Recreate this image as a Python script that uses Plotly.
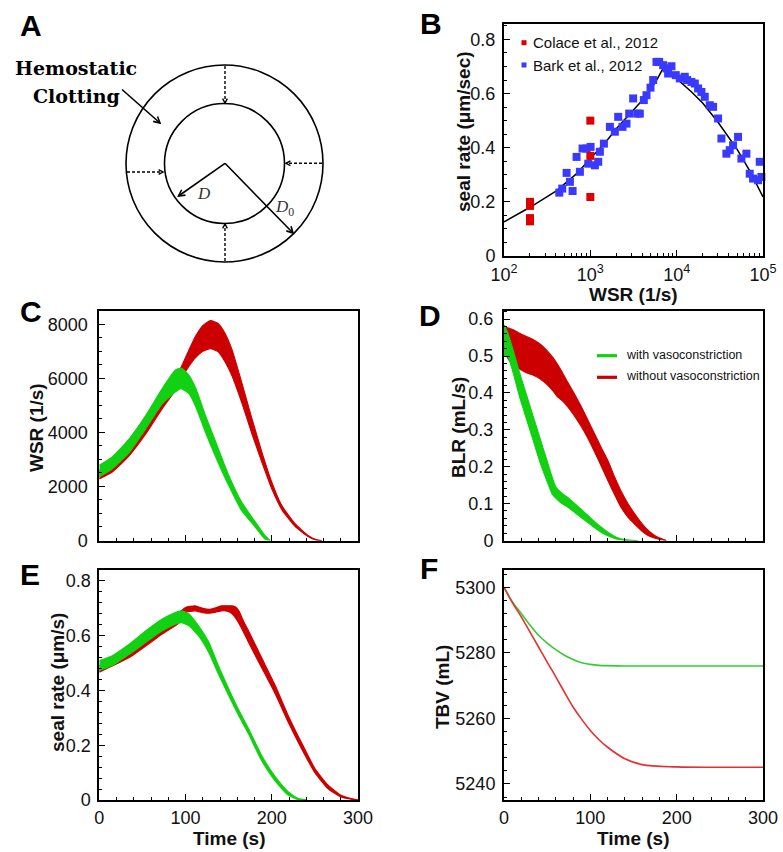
import math
import plotly.graph_objects as go

W, H = 783, 852

# ---------------- Data ----------------
# Panel B
colace_wsr = [200, 200, 200, 200, 1000, 1000, 1000]
colace_rate = [0.20, 0.185, 0.14, 0.128, 0.50, 0.37, 0.218]
bark_wsr = [437, 473, 531, 580, 623, 693, 757, 813, 904, 946, 1007, 1130, 1234, 1290, 1436,
            1684, 1923, 2102, 2359, 2625, 2818, 3134, 3488, 3743, 4166, 4473, 4978, 5344, 5837,
            6268, 6969, 7617, 7962, 8704, 9770, 10869, 12420, 13215, 14831, 16218, 17713, 19364,
            21153, 24166, 26418, 30184, 32990, 37680, 41180, 44990, 51400, 56200, 64250, 70200,
            76700, 87700, 91700, 95800]
bark_rate = [0.234, 0.249, 0.307, 0.274, 0.240, 0.366, 0.311, 0.397, 0.397, 0.341, 0.403, 0.335,
             0.348, 0.385, 0.415, 0.477, 0.459, 0.514, 0.477, 0.489, 0.526, 0.582, 0.526, 0.526,
             0.576, 0.594, 0.622, 0.650, 0.717, 0.717, 0.705, 0.693, 0.674, 0.701, 0.668, 0.656,
             0.662, 0.650, 0.643, 0.637, 0.619, 0.606, 0.588, 0.557, 0.551, 0.508, 0.434, 0.378,
             0.391, 0.409, 0.440, 0.360, 0.378, 0.304, 0.286, 0.280, 0.348, 0.292]
fit_wsr = [100, 200, 400, 700, 1000, 1500, 2000, 3000, 4000, 5000, 6000, 7000, 8000, 10000,
           15000, 20000, 30000, 40000, 50000, 70000, 100000]
fit_rate = [0.126, 0.18, 0.24, 0.305, 0.36, 0.42, 0.47, 0.53, 0.575, 0.615, 0.655, 0.695, 0.68,
            0.655, 0.605, 0.565, 0.495, 0.44, 0.395, 0.315, 0.218]

# Panel C (WSR)
c_green_t = [0, 15, 35, 54, 73, 88, 95, 104, 112, 123, 135, 150, 165, 181, 192, 198]
c_green_hi = [2780, 3090, 3770, 4630, 5620, 6300, 6380, 6110, 5620, 4630, 3640, 2410, 1420, 680, 185, 0]
c_green_lo = [2350, 2650, 3270, 4140, 5060, 5490, 5620, 5430, 4940, 4010, 3090, 2040, 1110, 490, 60, 0]
c_red_t = [0, 15, 35, 54, 73, 88, 95, 104, 111, 120, 129, 138, 146, 154, 165, 177, 188.5, 200, 211.5,
           227, 242, 252, 258]
c_red_hi = [2590, 2900, 3580, 4440, 5370, 6050, 6420, 7050, 7520, 7950, 8130, 8020, 7650, 7050, 5860,
            4510, 3270, 2160, 1300, 620, 185, 25, 0]
c_red_lo = [2280, 2530, 3150, 3950, 4880, 5550, 5990, 6450, 6750, 7000, 7100, 6980, 6600, 6080, 5120,
            3950, 2900, 1910, 1150, 520, 150, 10, 0]

# Panel D (BLR)
d_green_t = [0, 4, 10, 18, 26, 34, 42, 50, 56, 60, 66, 73, 83, 93, 103, 113, 123, 130, 138, 145, 155]
d_green_hi = [0.585, 0.565, 0.52, 0.455, 0.395, 0.335, 0.275, 0.215, 0.17, 0.145, 0.13, 0.118, 0.098,
              0.077, 0.055, 0.035, 0.018, 0.009, 0.003, 0.001, 0]
d_green_lo = [0.50, 0.50, 0.46, 0.39, 0.33, 0.27, 0.21, 0.16, 0.125, 0.115, 0.102, 0.092, 0.074, 0.056,
              0.038, 0.022, 0.01, 0.004, 0.001, 0, 0]
d_red_t = [0, 3, 10, 18, 26, 34, 42, 49, 57, 61, 67, 73, 81, 89, 97, 105, 113, 121, 128, 136, 144, 152,
           160, 168, 175, 182, 188]
d_red_hi = [0.583, 0.578, 0.572, 0.562, 0.553, 0.544, 0.532, 0.517, 0.495, 0.481, 0.458, 0.432, 0.40,
            0.365, 0.327, 0.289, 0.25, 0.213, 0.173, 0.132, 0.098, 0.07, 0.045, 0.025, 0.013, 0.005, 0]
d_red_lo = [0.56, 0.50, 0.477, 0.465, 0.455, 0.448, 0.438, 0.425, 0.405, 0.392, 0.38, 0.365, 0.34,
            0.311, 0.278, 0.24, 0.20, 0.159, 0.125, 0.088, 0.062, 0.043, 0.025, 0.012, 0.006, 0.002, 0]

# Panel E (seal rate)
e_green_t = [0, 15, 35, 54, 73, 88, 95, 104, 115, 127, 138, 150, 161, 173, 188, 204, 219, 230, 240]
e_green_hi = [0.509, 0.527, 0.570, 0.618, 0.661, 0.685, 0.691, 0.679, 0.636, 0.576, 0.491, 0.406,
              0.333, 0.261, 0.164, 0.085, 0.030, 0.006, 0]
e_green_lo = [0.473, 0.491, 0.533, 0.576, 0.618, 0.642, 0.648, 0.636, 0.600, 0.539, 0.461, 0.382,
              0.312, 0.242, 0.145, 0.069, 0.018, 0.002, 0]
e_red_t = [0, 35, 73, 88, 95, 100, 111, 120, 127, 135, 142, 150, 154, 158, 162, 167, 173, 188, 204,
           219, 235, 250, 265, 281, 296, 300]
e_red_hi = [0.491, 0.552, 0.648, 0.675, 0.691, 0.703, 0.709, 0.700, 0.696, 0.702, 0.709, 0.709, 0.709,
            0.705, 0.69, 0.655, 0.618, 0.521, 0.418, 0.309, 0.206, 0.115, 0.055, 0.016, 0.002, 0]
e_red_lo = [0.467, 0.521, 0.606, 0.636, 0.655, 0.685, 0.691, 0.684, 0.682, 0.686, 0.691, 0.688, 0.68,
            0.665, 0.645, 0.615, 0.576, 0.485, 0.388, 0.285, 0.185, 0.100, 0.042, 0.010, 0.001, 0]

# Panel F (TBV)
f_t = [0, 10, 20, 30, 40, 50, 60, 70, 80, 90, 100, 110, 120, 140, 160, 200, 250, 300]
f_green = [5300, 5295.5, 5292, 5288.5, 5285.4, 5283, 5281, 5279.3, 5278, 5277, 5276.5, 5276.2,
           5276.1, 5276, 5276, 5276, 5276, 5276]
f_red = [5300, 5295.2, 5291, 5286.4, 5281.8, 5277.2, 5272.7, 5268, 5263.5, 5259.7, 5256.3, 5253.5,
         5251.2, 5247.7, 5245.9, 5245.2, 5245.1, 5245.1]

legend_labels_B = ["Colace et al., 2012", "Bark et al., 2012"]
legend_labels_D = ["with vasoconstriction", "without vasoconstriction"]

GREEN = "#12d012"
RED = "#cc0000"
GREEN_THIN = "#33cc33"
RED_THIN = "#e53030"
FONT = "Liberation Sans, Arial, sans-serif"


def px(x):
    return x / W


def py(y):
    return 1 - y / H


fig = go.Figure()


def band(t, lo, hi, color, xa, ya):
    fig.add_trace(go.Scatter(x=t, y=lo, mode="lines", line=dict(color=color, width=1.2, shape="spline", smoothing=0.5),
                             xaxis=xa, yaxis=ya, showlegend=False, hoverinfo="skip"))
    fig.add_trace(go.Scatter(x=t, y=hi, mode="lines", line=dict(color=color, width=1.2, shape="spline", smoothing=0.5),
                             fill="tonexty", fillcolor=color,
                             xaxis=xa, yaxis=ya, showlegend=False, hoverinfo="skip"))


# Panel B
fig.add_trace(go.Scatter(x=fit_wsr, y=fit_rate, mode="lines", line=dict(color="black", width=1.5),
                         xaxis="x", yaxis="y", showlegend=False, hoverinfo="skip"))
fig.add_trace(go.Scatter(x=bark_wsr, y=bark_rate, mode="markers", cliponaxis=False,
                         marker=dict(symbol="square", size=8, color="#3a3aff", line=dict(width=0)),
                         xaxis="x", yaxis="y", showlegend=False))
fig.add_trace(go.Scatter(x=colace_wsr, y=colace_rate, mode="markers", cliponaxis=False,
                         marker=dict(symbol="square", size=8, color="#dd0000", line=dict(width=0)),
                         xaxis="x", yaxis="y", showlegend=False))

# Panel C
band(c_red_t, c_red_lo, c_red_hi, RED, "x2", "y2")
band(c_green_t, c_green_lo, c_green_hi, GREEN, "x2", "y2")
# Panel D
band(d_red_t, d_red_lo, d_red_hi, RED, "x3", "y3")
band(d_green_t, d_green_lo, d_green_hi, GREEN, "x3", "y3")
# Panel E
band(e_red_t, e_red_lo, e_red_hi, RED, "x4", "y4")
band(e_green_t, e_green_lo, e_green_hi, GREEN, "x4", "y4")
# Panel F
fig.add_trace(go.Scatter(x=f_t, y=f_green, mode="lines", line=dict(color=GREEN_THIN, width=1.6, shape="spline"),
                         xaxis="x5", yaxis="y5", showlegend=False))
fig.add_trace(go.Scatter(x=f_t, y=f_red, mode="lines", line=dict(color=RED_THIN, width=1.6, shape="spline"),
                         xaxis="x5", yaxis="y5", showlegend=False))

# dummy trace for diagram axis
fig.add_trace(go.Scatter(x=[0], y=[0], mode="markers", marker=dict(opacity=0), xaxis="x6", yaxis="y6",
                         showlegend=False, hoverinfo="skip"))


def ax_style(**kw):
    d = dict(showline=True, linecolor="black", linewidth=2, mirror=True, ticks="inside", ticklen=6,
             tickwidth=1.3, tickcolor="black", showgrid=False, zeroline=False, automargin=False,
             tickfont=dict(family=FONT, size=18, color="#111"), ticklabelstandoff=3)
    d.update(kw)
    return d


xB = [px(504), px(763)]
xL = [px(99.3), px(358)]
xR = [px(504), px(763)]
yB = [py(256), py(24)]
yM = [py(540.5), py(310.7)]
yE = [py(800), py(570)]

minor_t = dict(ticks="inside", ticklen=3, tickwidth=1, tickcolor="black", dtick=20)

fig.update_layout(
    width=W, height=H, margin=dict(l=0, r=0, t=0, b=0, pad=0, autoexpand=False),
    paper_bgcolor="white", plot_bgcolor="white", showlegend=False,
    xaxis=ax_style(type="log", range=[2, 5], domain=xB, anchor="y", ticklabelstandoff=1,
                   tickmode="array", tickvals=[100, 1000, 10000, 100000],
                   ticktext=["10<sup>2</sup>", "10<sup>3</sup>", "10<sup>4</sup>", "10<sup>5</sup>"],
                   minor=dict(ticks="inside", ticklen=3, tickwidth=1, tickcolor="black", dtick="D1")),
    yaxis=ax_style(range=[0, 0.857], domain=yB, anchor="x", tickvals=[0, 0.2, 0.4, 0.6, 0.8],
                   ticktext=["0", "0.2", "0.4", "0.6", "0.8"],
                   minor=dict(ticks="inside", ticklen=3, tickwidth=1, tickcolor="black", dtick=0.05)),
    xaxis2=ax_style(range=[0, 300], domain=xL, anchor="y2", dtick=100, showticklabels=False, minor=minor_t),
    yaxis2=ax_style(range=[0, 8500], domain=yM, anchor="x2", dtick=2000, ticklabelstandoff=6,
                    minor=dict(ticks="inside", ticklen=3, tickwidth=1, tickcolor="black", dtick=500)),
    xaxis3=ax_style(range=[0, 300], domain=xR, anchor="y3", dtick=100, showticklabels=False, minor=minor_t),
    yaxis3=ax_style(range=[0, 0.623], domain=yM, anchor="x3", tickvals=[0, 0.1, 0.2, 0.3, 0.4, 0.5, 0.6],
                    ticktext=["0", "0.1", "0.2", "0.3", "0.4", "0.5", "0.6"], ticklabelstandoff=5,
                    minor=dict(ticks="inside", ticklen=3, tickwidth=1, tickcolor="black", dtick=0.02)),
    xaxis4=ax_style(range=[0, 300], domain=xL, anchor="y4", dtick=100, minor=minor_t, ticklabelstandoff=0),
    yaxis4=ax_style(range=[0, 0.84], domain=yE, anchor="x4", tickvals=[0, 0.2, 0.4, 0.6, 0.8],
                    ticktext=["0", "0.2", "0.4", "0.6", "0.8"],
                    minor=dict(ticks="inside", ticklen=3, tickwidth=1, tickcolor="black", dtick=0.04)),
    xaxis5=ax_style(range=[0, 300], domain=xR, anchor="y5", dtick=100, minor=minor_t, ticklabelstandoff=0),
    yaxis5=ax_style(range=[5235.1, 5305.3], domain=yE, anchor="x5", tickvals=[5240, 5260, 5280, 5300],
                    minor=dict(ticks="inside", ticklen=3, tickwidth=1, tickcolor="black", dtick=4)),
    xaxis6=dict(domain=[0, 400 / W], range=[0, 400], visible=False, anchor="y6", fixedrange=True, automargin=False),
    yaxis6=dict(domain=[py(290), 1], range=[290, 0], visible=False, anchor="x6", fixedrange=True, automargin=False),
)

ann = []
shapes = []

# Panel letters
for letter, x, y in [("A", 31, 25), ("B", 431, 24), ("C", 31, 312), ("D", 430, 315), ("E", 30, 574), ("F", 429, 568)]:
    ann.append(dict(text=f"<b>{letter}</b>", x=px(x), y=py(y), xref="paper", yref="paper", showarrow=False,
                    xanchor="center", yanchor="middle", font=dict(family=FONT, size=30, color="black")))

# Axis titles
TF = dict(family=FONT, size=19, color="#111")
titles = [
    ("<b>seal rate (μm/sec)</b>", 463, 132, -90),
    ("<b>WSR (1/s)</b>", 633, 294, 0),
    ("<b>WSR (1/s)</b>", 36, 428, -90),
    ("<b>BLR (mL/s)</b>", 458, 428, -90),
    ("<b>seal rate (μm/s)</b>", 57, 683, -90),
    ("<b>Time (s)</b>", 229, 838, 0),
    ("<b>TBV (mL)</b>", 442, 687, -90),
    ("<b>Time (s)</b>", 633, 838, 0),
]
for txt, x, y, ang in titles:
    ann.append(dict(text=txt, x=px(x), y=py(y), xref="paper", yref="paper", showarrow=False, textangle=ang,
                    xanchor="center", yanchor="middle", font=TF))

# Legend B (manual)
for (lab, col, yy) in [(legend_labels_B[0], "#dd0000", 42.7), (legend_labels_B[1], "#3a3aff", 65)]:
    shapes.append(dict(type="rect", xref="paper", yref="paper", x0=px(521.5), x1=px(526.5), y0=py(yy + 2.5),
                       y1=py(yy - 2.5), fillcolor=col, line=dict(width=0)))
    ann.append(dict(text=lab, x=px(530.5), y=py(yy), xref="paper", yref="paper", showarrow=False,
                    xanchor="left", yanchor="middle", font=dict(family=FONT, size=15, color="#111")))

# Legend D (manual)
for (lab, col, yy) in [(legend_labels_D[0], GREEN, 355.7), (legend_labels_D[1], RED, 377.3)]:
    shapes.append(dict(type="line", xref="paper", yref="paper", x0=px(597), x1=px(617), y0=py(yy), y1=py(yy),
                       line=dict(color=col, width=3.2)))
    ann.append(dict(text=lab, x=px(623.5), y=py(yy - 1), xref="paper", yref="paper", showarrow=False,
                    xanchor="left", yanchor="middle", font=dict(family=FONT, size=12.5, color="#111")))

# ---------------- Panel A diagram ----------------
cx, cy = 224.5, 163.5
r_out, r_in = 98.5, 60
for r in (r_out, r_in):
    shapes.append(dict(type="circle", xref="x6", yref="y6", x0=cx - r, x1=cx + r, y0=cy - r, y1=cy + r,
                       line=dict(color="black", width=1.6)))


def arrow(x0, y0, x1, y1, dash="solid", head=7, width=1.6):
    shapes.append(dict(type="line", xref="x6", yref="y6", x0=x0, y0=y0, x1=x1, y1=y1,
                       line=dict(color="black", width=width, dash=dash)))
    ang = math.atan2(y1 - y0, x1 - x0)
    a1 = ang + math.pi - math.radians(28)
    a2 = ang + math.pi + math.radians(28)
    p1 = (x1 + head * math.cos(a1), y1 + head * math.sin(a1))
    p2 = (x1 + head * math.cos(a2), y1 + head * math.sin(a2))
    shapes.append(dict(type="path", xref="x6", yref="y6",
                       path=f"M {p1[0]:.2f} {p1[1]:.2f} L {x1:.2f} {y1:.2f} L {p2[0]:.2f} {p2[1]:.2f}",
                       line=dict(color="black", width=width)))


arrow(225, 66, 225, 103, dash="3px,2px", head=5, width=1.4)
arrow(225, 261, 225, 224, dash="3px,2px", head=5, width=1.4)
arrow(127, 172, 163, 172, dash="3px,2px", head=5, width=1.4)
arrow(322, 163.3, 286, 163.3, dash="3px,2px", head=5, width=1.4)
arrow(225, 163.3, 178.5, 196)
arrow(225, 163.3, 293, 233)
arrow(122, 89.5, 160, 123)

SERIF = "DejaVu Serif, Liberation Serif, serif"
ann.append(dict(text="<b>Hemostatic</b>", x=76, y=68, xref="x6", yref="y6", showarrow=False,
                xanchor="center", yanchor="middle", font=dict(family=SERIF, size=19, color="black")))
ann.append(dict(text="<b>Clotting</b>", x=76.5, y=96, xref="x6", yref="y6", showarrow=False,
                xanchor="center", yanchor="middle", font=dict(family=SERIF, size=19, color="black")))
ann.append(dict(text="<i>D</i>", x=204, y=193, xref="x6", yref="y6", showarrow=False,
                xanchor="center", yanchor="middle", font=dict(family="Liberation Serif, serif", size=17, color="#333")))
ann.append(dict(text="<i>D</i><sub>0</sub>", x=284, y=208, xref="x6", yref="y6", showarrow=False,
                xanchor="center", yanchor="middle", font=dict(family="Liberation Serif, serif", size=17, color="#333")))

fig.update_layout(annotations=ann, shapes=shapes)
fig.write_html("out.html")
